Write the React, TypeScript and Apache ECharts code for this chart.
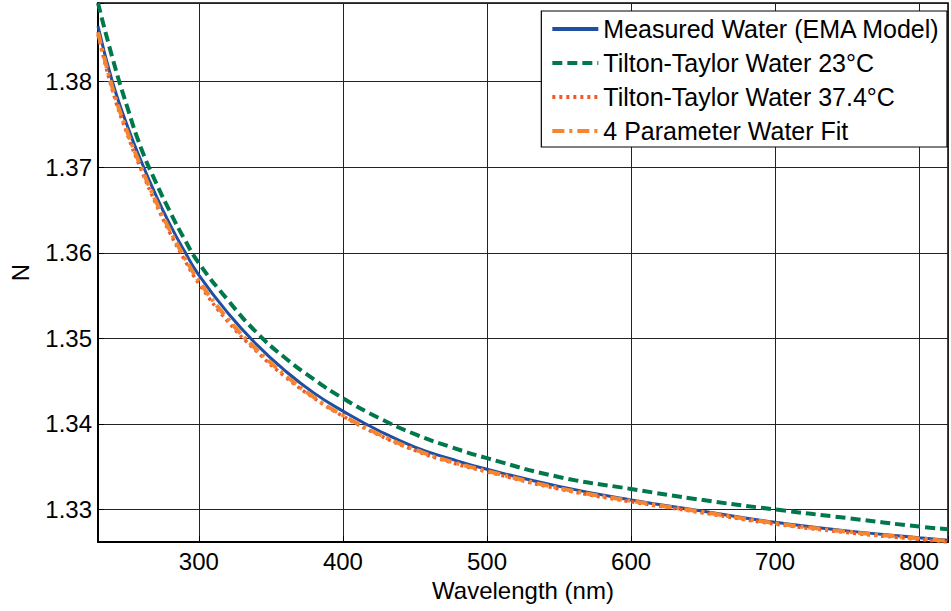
import React, { useEffect, useRef } from "react";
import * as echarts from "echarts";

const wavelengths = [230, 240, 250, 260, 270, 280, 290, 300, 320, 340, 360, 380, 400, 425, 450, 475, 500, 550, 600, 650, 700, 750, 800, 820];

const measuredWater = [1.3865, 1.38, 1.375, 1.3707, 1.3668, 1.3633, 1.3602, 1.3574, 1.353, 1.3493, 1.3462, 1.3436, 1.3415, 1.3392, 1.3373, 1.3359, 1.3347, 1.3327, 1.3311, 1.3298, 1.3285, 1.3275, 1.3267, 1.3264];

const tiltonTaylor23 = [1.3892, 1.3828, 1.3772, 1.3722, 1.3683, 1.3648, 1.3616, 1.3588, 1.3545, 1.3507, 1.3477, 1.3452, 1.343, 1.3407, 1.3388, 1.3373, 1.336, 1.3338, 1.3324, 1.3311, 1.33, 1.329, 1.328, 1.3277];

const tiltonTaylor374 = [1.3855, 1.379, 1.374, 1.3697, 1.3658, 1.3623, 1.3592, 1.3564, 1.352, 1.3485, 1.3455, 1.343, 1.3409, 1.3387, 1.3369, 1.3355, 1.3344, 1.3324, 1.3309, 1.3296, 1.3283, 1.3273, 1.3265, 1.3262];

const fourParamFit = [1.3858, 1.3793, 1.3743, 1.37, 1.3661, 1.3626, 1.3595, 1.3567, 1.3523, 1.3487, 1.3457, 1.3431, 1.341, 1.3388, 1.337, 1.3356, 1.3345, 1.3325, 1.331, 1.3297, 1.3284, 1.3274, 1.3266, 1.3263];

const seriesNames = [
  "Measured Water (EMA Model)",
  "Tilton-Taylor Water 23°C",
  "Tilton-Taylor Water 37.4°C",
  "4 Parameter Water Fit",
];

const FONT = "'Liberation Sans', Arial, Helvetica, sans-serif";

function pairs(ys: number[]) {
  return wavelengths.map((x, i) => [x, ys[i]]);
}

export default function App() {
  const ref = useRef<HTMLDivElement>(null);

  useEffect(() => {
    if (!ref.current) return;
    const chart = echarts.init(ref.current, null, { renderer: "svg" });
    const mk = (name: string, data: number[], color: string, type: any, width: number) => ({
      name,
      type: "line",
      data: pairs(data),
      symbol: "none",
      smooth: true,
      lineStyle: { color, width, type },
      itemStyle: { color },
      z: 3,
    });
    chart.setOption({
      animation: false,
      backgroundColor: "#fff",
      textStyle: { fontFamily: FONT },
      grid: {
        left: 98,
        right: -2,
        top: 3,
        bottom: 69,
        show: true,
        borderColor: "#000",
        borderWidth: 1.5,
        backgroundColor: "transparent",
      },
      legend: {
        orient: "vertical",
        right: 4,
        top: 11,
        backgroundColor: "#fff",
        borderColor: "#000",
        borderWidth: 1.2,
        borderRadius: 0,
        padding: [5, 7, 3, 9],
        itemWidth: 46,
        itemHeight: 10,
        itemGap: 8,
        itemStyle: { opacity: 0 },
        lineStyle: { width: 4 },
        textStyle: { fontSize: 25, color: "#000", fontFamily: FONT, lineHeight: 26 },
        data: seriesNames,
        z: 10,
      },
      xAxis: {
        type: "value",
        min: 230,
        max: 820,
        name: "Wavelength (nm)",
        nameLocation: "middle",
        nameGap: 36,
        nameTextStyle: { fontSize: 24, color: "#000", fontFamily: FONT },
        axisLine: { show: true, lineStyle: { color: "#000", width: 2 } },
        axisTick: { show: true, inside: true, length: 6, lineStyle: { color: "#000" } },
        axisLabel: {
          fontSize: 24,
          color: "#000",
          margin: 7,
          fontFamily: FONT,
          formatter: (v: number) => (Math.abs(v % 100) < 1e-6 ? String(v) : ""),
        },
        splitLine: { show: true, lineStyle: { color: "#222", width: 1 } },
      },
      yAxis: {
        type: "value",
        min: 1.3262,
        max: 1.3892,
        name: "N",
        nameLocation: "middle",
        nameGap: 66,
        nameTextStyle: { fontSize: 24, color: "#000", fontFamily: FONT },
        axisLine: { show: true, lineStyle: { color: "#000", width: 2 } },
        axisTick: { show: true, inside: true, length: 6, lineStyle: { color: "#000" } },
        axisLabel: {
          fontSize: 24,
          color: "#000",
          margin: 6,
          fontFamily: FONT,
          formatter: (v: number) => {
            const r = Math.round(v * 100) / 100;
            return Math.abs(v - r) < 1e-6 ? r.toFixed(2) : "";
          },
        },
        splitLine: { show: true, lineStyle: { color: "#222", width: 1 } },
      },
      series: [
        mk(seriesNames[0], measuredWater, "#1f4ea3", "solid", 3),
        mk(seriesNames[1], tiltonTaylor23, "#00784b", [10, 5], 4),
        mk(seriesNames[2], tiltonTaylor374, "#f05a28", [3, 4], 3.5),
        mk(seriesNames[3], fourParamFit, "#f7842f", [12, 5, 3, 5], 4),
      ],
    });
    return () => chart.dispose();
  }, []);

  return (
    <div
      ref={ref}
      style={{ position: "fixed", left: 0, top: 0, width: 951, height: 611, background: "#fff" }}
    />
  );
}
